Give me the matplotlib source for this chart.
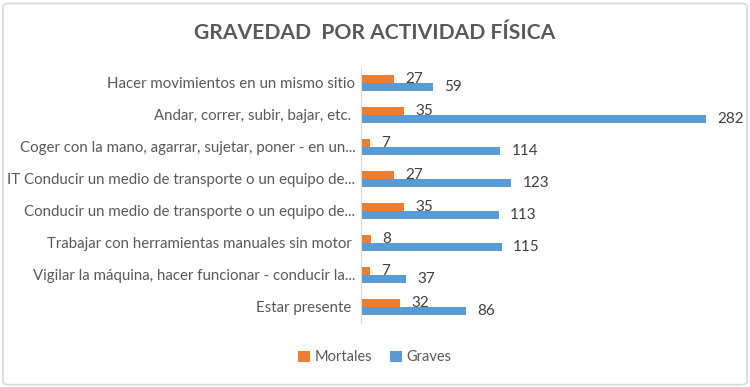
import matplotlib
matplotlib.use("Agg")
import matplotlib.pyplot as plt
from matplotlib.patches import FancyBboxPatch
import numpy as np

plt.rcParams['font.family'] = ['Lato', 'DejaVu Sans']

# data, top to bottom as in the chart
categories = [
    "Hacer movimientos en un mismo sitio",
    "Andar, correr, subir, bajar, etc. ",
    "Coger con la mano, agarrar, sujetar, poner - en un...",
    "IT Conducir un medio de transporte o un equipo de...",
    "Conducir un medio de transporte o un equipo de...",
    "Trabajar con herramientas manuales sin motor ",
    "Vigilar la máquina, hacer funcionar - conducir la...",
    "Estar presente ",
]
mortales = [27, 35, 7, 27, 35, 8, 7, 32]
graves = [59, 282, 114, 123, 113, 115, 37, 86]

orange = "#ED7D31"
blue = "#5B9BD5"
grey_txt = "#595959"

fig = plt.figure(figsize=(7.5, 3.87), dpi=100)

# chart border (no fill so it doesn't hide the axes)
border = FancyBboxPatch((0.004, 0.006), 0.992, 0.985, boxstyle="round,pad=0,rounding_size=0.008",
                        transform=fig.transFigure, facecolor="none", edgecolor="#D9D9D9", linewidth=1.2)
fig.patches.append(border)

ax = fig.add_axes([0.4813, 0.1654, 0.489, 0.6615])
ax.set_facecolor("none")

y = np.arange(len(categories))
h = 0.25
b1 = ax.barh(y - h / 2, mortales, height=h, color=orange, label="Mortales")
b2 = ax.barh(y + h / 2, graves, height=h, color=blue, label="Graves")

for bars, vals in ((b1, mortales), (b2, graves)):
    for rect, v in zip(bars, vals):
        ax.annotate(str(v), (rect.get_width(), rect.get_y() + rect.get_height() / 2),
                    xytext=(8, 0), textcoords="offset points", va="center", ha="left",
                    fontsize=11, color="#404040")

ax.set_xlim(0, 300)
ax.set_ylim(len(categories) - 0.5, -0.5)
ax.set_yticks(y)
ax.set_yticklabels(categories, fontsize=10.8, color=grey_txt)
ax.tick_params(axis="y", length=0, pad=4)
ax.set_xticks([])
for s in ("top", "right", "bottom"):
    ax.spines[s].set_visible(False)
ax.spines["left"].set_color("#D9D9D9")

fig.text(0.5, 0.915, "GRAVEDAD  POR ACTIVIDAD FÍSICA", ha="center", va="center",
         fontsize=15.2, fontweight="bold", color=grey_txt)

fig.legend(handles=[b1, b2], loc="center", bbox_to_anchor=(0.5, 0.077), ncol=2, frameon=False,
           fontsize=10.5, labelcolor=grey_txt, handlelength=0.8, handleheight=0.8,
           handletextpad=0.35, columnspacing=1.2)

fig.savefig("out.png", dpi=100)
